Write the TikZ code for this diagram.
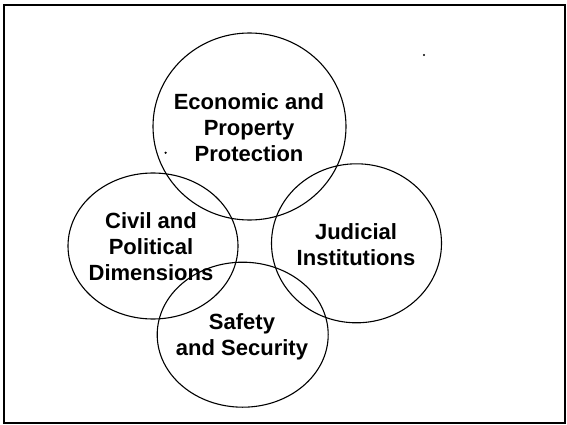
\documentclass[tikz,border=0pt]{standalone}
\usepackage{fontspec}
\setmainfont{Liberation Sans}
\usetikzlibrary{shapes.geometric}
\tikzset{
  ring/.style={draw=black, line width=1.1pt, ellipse, inner sep=0pt},
  ringtext/.style={inner sep=0pt, align=center,
    font=\fontsize{22}{26}\selectfont\bfseries},
  frameline/.style={draw=black, line width=1.6pt},
  speck/.style={fill=black, circle, inner sep=0pt, minimum size=2.4pt}
}
\begin{document}
\begin{tikzpicture}[x=1pt, y=-1pt]
  \useasboundingbox (0,0) rectangle (567,425);
  \draw[frameline] (4,5) rectangle (565,423);
  \node[ring, minimum width=193pt, minimum height=187pt] (econ) at (249.5,126.5) {};
  \node[ring, minimum width=170pt, minimum height=146pt] (civil) at (153,246) {};
  \node[ring, minimum width=170pt, minimum height=159pt] (judic) at (356.5,243.3) {};
  \node[ring, minimum width=171pt, minimum height=145pt] (safety) at (242.7,334.7) {};
  \node[ringtext] (econtext) at (249,128) {Economic and\\Property\\Protection};
  \node[ringtext] (civiltext) at (151,247) {Civil and\\Political\\Dimensions};
  \node[ringtext] (judictext) at (356,245) {Judicial\\Institutions};
  \node[ringtext] (safetytext) at (242,337) {Safety\\and Security};
  \node[speck] (dotA) at (424,55) {};
  \node[speck] (dotB) at (165.6,152.7) {};
\end{tikzpicture}
\end{document}
